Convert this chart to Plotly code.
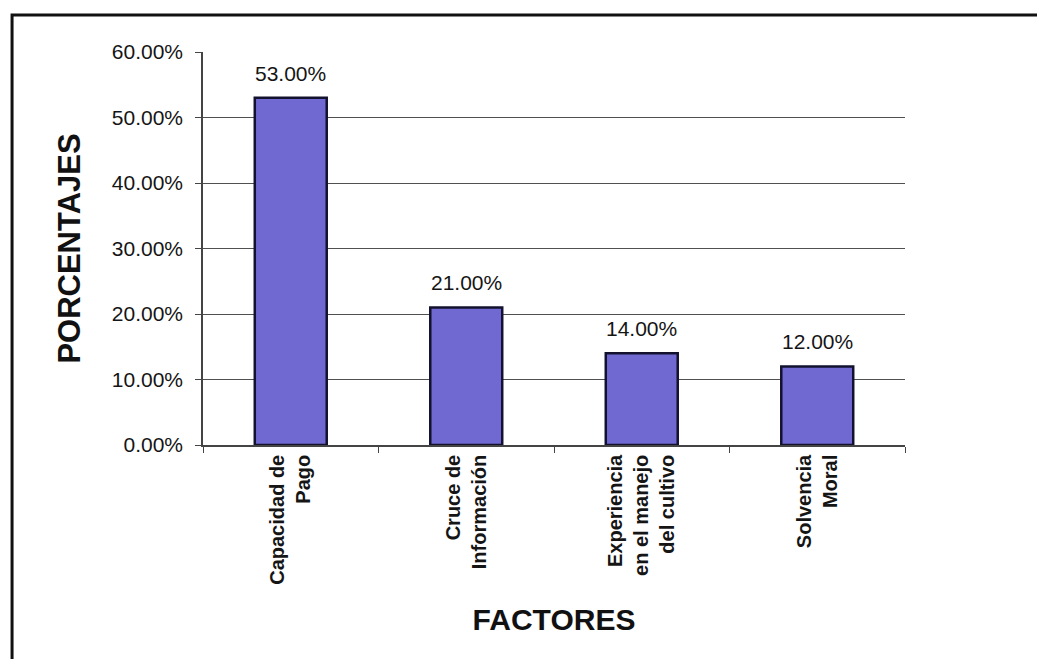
import plotly.graph_objects as go

categories = ["Capacidad de<br>Pago", "Cruce de<br>Información",
              "Experiencia<br>en el manejo<br>del cultivo", "Solvencia<br>Moral"]
values = [0.53, 0.21, 0.14, 0.12]
y_ticks = [0, 0.1, 0.2, 0.3, 0.4, 0.5, 0.6]

FONT = "Arial, Liberation Sans, sans-serif"

fig = go.Figure()
fig.add_trace(go.Bar(
    x=categories, y=values, width=0.41,
    marker=dict(color="#7169d2", line=dict(color="#12122e", width=2.5)),
    hoverinfo="skip",
))

for c, v in zip(categories, values):
    fig.add_annotation(x=c, y=v, text=f"{v*100:.2f}%", showarrow=False,
                       yanchor="bottom", yshift=11,
                       font=dict(family=FONT, size=21, color="#151515"))

fig.add_shape(type="rect", xref="paper", yref="paper",
              x0=-0.272, x1=1.2, y0=-0.56, y1=1.094,
              line=dict(color="#111", width=3), layer="below")

fig.update_layout(
    width=1037, height=659,
    margin=dict(l=203, r=132, t=52, b=214),
    paper_bgcolor="white", plot_bgcolor="white",
    showlegend=False,
    font=dict(family=FONT, color="#111"),
    xaxis=dict(
        tickangle=-90, tickson="boundaries", ticks="outside", ticklen=6,
        tickcolor="#444", showline=True, linecolor="#444", linewidth=1.5,
        showgrid=False,
        tickfont=dict(family=FONT, size=20, weight="bold", color="#151515"),
        title=dict(text="<b>FACTORES</b>", font=dict(family=FONT, size=30, color="#111"),
                   standoff=25),
    ),
    yaxis=dict(
        range=[0, 0.6], tickvals=y_ticks, tickformat=".2%",
        ticks="outside", ticklen=6, tickcolor="#444", ticklabelstandoff=8,
        showline=True, linecolor="#444", linewidth=1.5,
        showgrid=True, gridcolor="#505050", gridwidth=1.2, zeroline=False,
        tickfont=dict(family=FONT, size=21, color="#151515"),
        title=dict(text="<b>PORCENTAJES</b>", font=dict(family=FONT, size=31, color="#111"),
                   standoff=22),
    ),
)

fig.write_html("out.html")
